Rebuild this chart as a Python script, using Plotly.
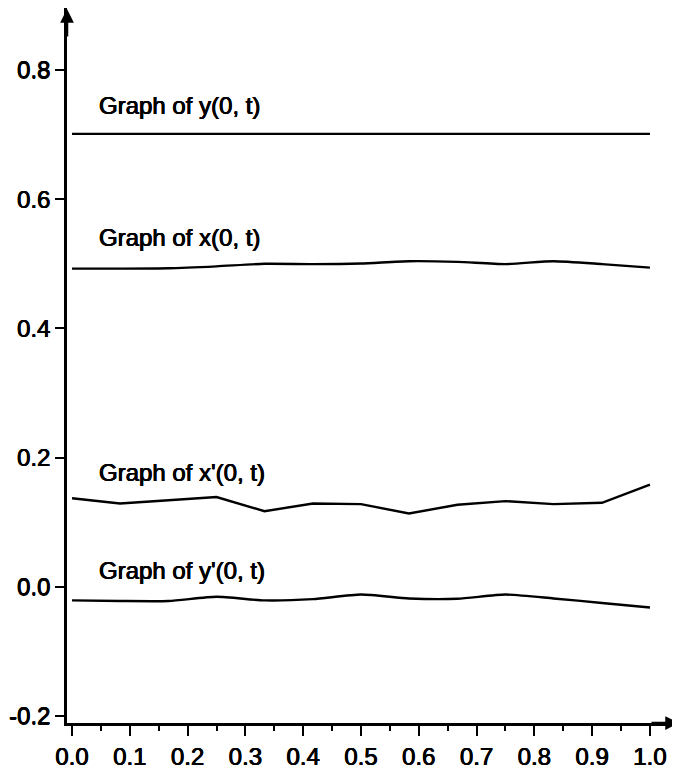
import plotly.graph_objects as go

# ---- data ----
t = [0.0, 0.083, 0.167, 0.25, 0.333, 0.417, 0.5, 0.583, 0.667, 0.75, 0.833, 0.917, 1.0]
y_0t = [0.701, 0.701, 0.701, 0.701, 0.701, 0.701, 0.701, 0.701, 0.701, 0.701, 0.701, 0.701, 0.701]
x_0t = [0.4925, 0.4925, 0.493, 0.496, 0.500, 0.4995, 0.5005, 0.504, 0.503, 0.4995, 0.504, 0.4995, 0.494]
xp_0t = [0.137, 0.129, 0.134, 0.139, 0.117, 0.129, 0.128, 0.1135, 0.127, 0.1326, 0.128, 0.130, 0.158]
yp_0t = [-0.021, -0.022, -0.022, -0.0155, -0.021, -0.019, -0.012, -0.018, -0.0185, -0.012, -0.018, -0.025, -0.032]

labels = ["Graph of y(0, t)", "Graph of x(0, t)", "Graph of x'(0, t)", "Graph of y'(0, t)"]

x_tick_vals = [0.0, 0.1, 0.2, 0.3, 0.4, 0.5, 0.6, 0.7, 0.8, 0.9, 1.0]
x_tick_text = ["0.0", "0.1", "0.2", "0.3", "0.4", "0.5", "0.6", "0.7", "0.8", "0.9", "1.0"]
y_tick_vals = [-0.2, 0.0, 0.2, 0.4, 0.6, 0.8]
y_tick_text = ["-0.2", "0.0", "0.2", "0.4", "0.6", "0.8"]

# ---- figure ----
FONT = "Liberation Sans, Arial, Helvetica, sans-serif"
SHADOW = "0.4px 0 0 black, -0.4px 0 0 black, 0 0.3px 0 black"
fig = go.Figure()

series = [y_0t, x_0t, xp_0t, yp_0t]
shapes = ["linear", "spline", "linear", "spline"]
label_shift = [28, 31, 26, 30]

for vals, shp in zip(series, shapes):
    fig.add_trace(go.Scatter(
        x=t, y=vals, mode="lines",
        line=dict(color="black", width=2.4, shape=shp, smoothing=0.6),
        showlegend=False, hoverinfo="skip",
    ))

annotations = []
for name, vals, sh in zip(labels, series, label_shift):
    annotations.append(dict(
        x=0.043, y=vals[0], xref="x", yref="y",
        text=name, showarrow=False, xanchor="left", yanchor="middle",
        yshift=sh, font=dict(family=FONT, size=24, color="black", shadow=SHADOW),
    ))

# axis arrowheads
annotations.append(dict(x=0, y=1, xref="paper", yref="paper", ax=0, ay=30,
                        text="", showarrow=True, arrowhead=2, arrowsize=1.1,
                        arrowwidth=2.5, arrowcolor="black"))
annotations.append(dict(x=1, y=0, xref="paper", yref="paper", ax=-30, ay=0,
                        text="", showarrow=True, arrowhead=2, arrowsize=1.1,
                        arrowwidth=2.5, arrowcolor="black"))

# the page body adds an 8px offset, so the figure is sized to fit the window
fig.update_layout(
    width=672, height=757,
    margin=dict(l=59, r=0, t=0, b=42, pad=0, autoexpand=False),
    paper_bgcolor="white", plot_bgcolor="white",
    annotations=annotations,
    font=dict(family=FONT, size=24, color="black"),
)

tickfont = dict(family=FONT, size=24, color="black", shadow=SHADOW)

fig.update_xaxes(
    range=[-0.0087, 1.052], automargin=False,
    showline=True, linewidth=2.5, linecolor="black",
    showgrid=False, zeroline=False,
    ticks="outside", ticklen=10, tickwidth=2, tickcolor="black",
    tickvals=x_tick_vals, ticktext=x_tick_text,
    tickfont=tickfont,
    minor=dict(ticks="outside", ticklen=5, tickwidth=1.5, tickcolor="black",
               dtick=0.05, tick0=0, showgrid=False),
)
fig.update_yaxes(
    range=[-0.2108, 0.8959], automargin=False,
    showline=True, linewidth=2.5, linecolor="black",
    showgrid=False, zeroline=False,
    ticks="outside", ticklen=9, tickwidth=2, tickcolor="black",
    tickvals=y_tick_vals, ticktext=y_tick_text,
    tickfont=tickfont,
)

fig.write_html("out.html")
